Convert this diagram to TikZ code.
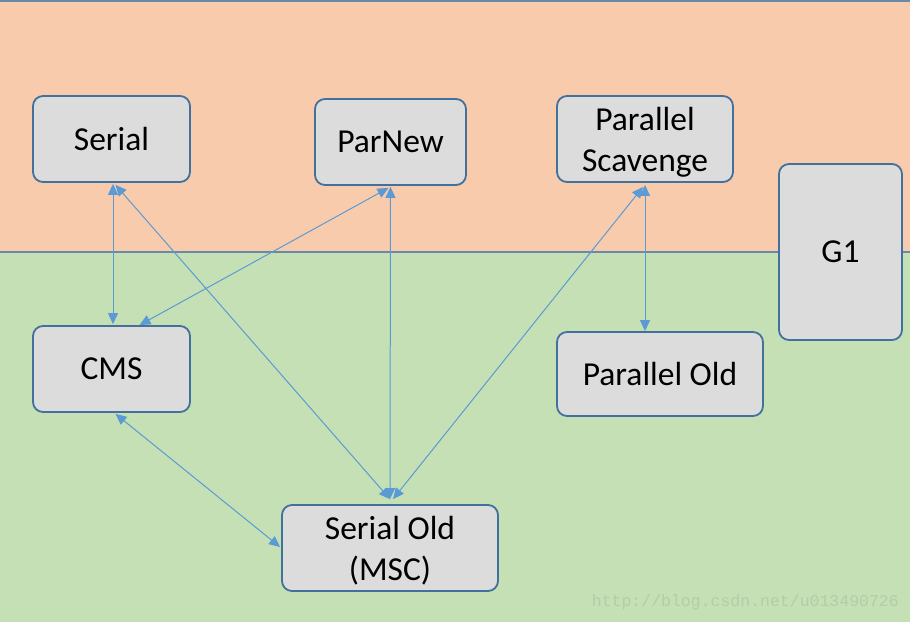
\documentclass[tikz,border=0pt]{standalone}
\usepackage{fontspec}
\setmainfont{Carlito}
\newfontfamily\wmfont{Liberation Mono}
\usetikzlibrary{arrows.meta,calc}
\definecolor{peach}{HTML}{F8CBAD}
\definecolor{lgreen}{HTML}{C5E0B4}
\definecolor{boxfill}{HTML}{DCDCDC}
\definecolor{boxline}{HTML}{41719C}
\definecolor{arrowc}{HTML}{5B9BD5}
\definecolor{sepline}{HTML}{6A88A8}
\definecolor{wmc}{HTML}{B5CCA8}
\tikzset{
  gcbox/.style={draw=boxline, line width=1.8pt, fill=boxfill, rounded corners=10pt,
    align=center, inner sep=0pt, font=\fontsize{33.5}{41}\selectfont},
  gctext/.style={align=center, inner sep=0pt, font=\fontsize{33.5}{41}\selectfont, yshift=-3pt},
  link/.style={draw=arrowc, line width=1pt, {Triangle[length=11pt,width=10pt]}-{Triangle[length=11pt,width=10pt]}}
}
\begin{document}
\begin{tikzpicture}[x=1pt,y=-1pt]
\useasboundingbox (0,0) rectangle (910,622);
\fill[peach] (0,0) rectangle (910,252);
\fill[lgreen] (0,252) rectangle (910,622);
\draw[sepline, line width=1.5pt] (0,1) -- (910,1);
\draw[sepline, line width=1.2pt] (0,252) -- (910,252);
\node[gcbox, minimum width=157pt, minimum height=86pt] (serial) at (111.5,139) {Serial};
\node[gcbox, minimum width=151pt, minimum height=86pt] (parnew) at (390.5,142) {ParNew};
\node[gcbox, minimum width=176pt, minimum height=86pt, label={[gctext]center:Parallel\\Scavenge}] (ps) at (645,139) {};
\node[gcbox, minimum width=123pt, minimum height=176pt] (g1) at (840.5,252) {G1};
\node[gcbox, minimum width=157pt, minimum height=86pt] (cms) at (111.5,369) {CMS};
\node[gcbox, minimum width=206pt, minimum height=84pt] (po) at (660,374) {Parallel Old};
\node[gcbox, minimum width=216pt, minimum height=86pt, label={[gctext]center:Serial Old\\(MSC)}] (so) at (390,548) {};
\node[anchor=east, text=wmc, font=\wmfont\fontsize{16.5}{18}\selectfont, inner sep=0pt] (wm) at (899,602) {http://blog.csdn.net/u013490726};
\draw[link] ($(serial.south)+(1.5,1)$) -- ($(cms.north)+(1.5,-1)$);
\draw[link] ($(serial.south)+(4,2)$) -- ($(so.north)+(0,-5)$);
\draw[link] ($(parnew.south)+(-2,2)$) -- ($(cms.north)+(28,0)$);
\draw[link] ($(parnew.south)+(0,1)$) -- ($(so.north)+(0,-5)$);
\draw[link] ($(ps.south)+(-2,4)$) -- ($(so.north)+(3,-5)$);
\draw[link] ($(ps.south)+(0,2)$) -- (ps.south |- po.north);
\draw[link] ($(cms.south)+(4,1)$) -- ($(so.west)+(-1,-1)$);
\end{tikzpicture}
\end{document}
